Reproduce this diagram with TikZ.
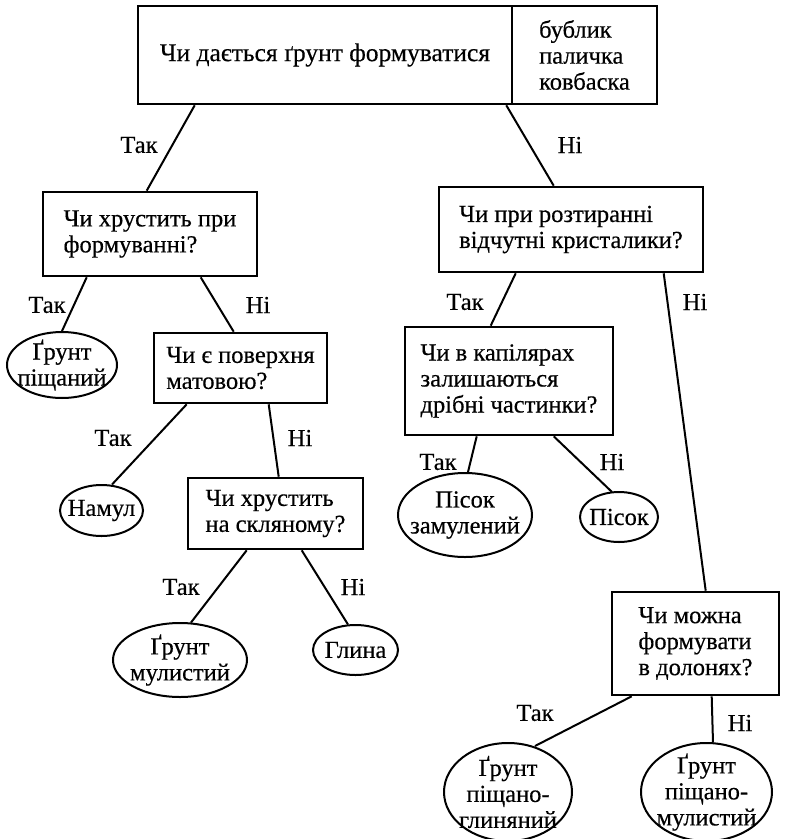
\documentclass[tikz,border=0pt]{standalone}
\usepackage{fontspec}
\setmainfont{Liberation Serif}[FakeBold=0.4]
\usetikzlibrary{shapes.geometric,calc}
\newcommand{\dfont}{\fontsize{24.5}{26}\selectfont}
\newcommand{\tfont}{\fontsize{25.5}{26}\selectfont}
\begin{document}
\begin{tikzpicture}[x=1pt,y=-1pt,
  qbox/.style={draw,rectangle,line width=2.6pt,inner sep=0pt,align=left,font=\dfont},
  leaf/.style={draw,ellipse,line width=2pt,inner sep=0pt},
  leaftext/.style={inner sep=0pt,align=center,font=\dfont},
  conn/.style={line width=2pt},
  lab/.style={inner sep=0pt,font=\dfont}]
\fill[white] (0,0) rectangle (793,839);
\useasboundingbox (0,0) rectangle (793,839);

% question boxes
\node[qbox,minimum width=374pt,minimum height=98pt,font=\tfont] (q0) at (325,55) {Чи дається ґрунт формуватися};
\node[qbox,minimum width=145pt,minimum height=98pt] (q0b) at (584.5,55) {бублик\\паличка\\ковбаска};
\node[qbox,minimum width=214pt,minimum height=84pt] (q1) at (150,234) {Чи хрустить при\\формуванні?};
\node[qbox,minimum width=264pt,minimum height=85pt] (q2) at (571,229.5) {Чи при розтиранні\\відчутні кристалики?};
\node[qbox,minimum width=173pt,minimum height=70pt] (q3) at (240.5,368) {Чи є поверхня\\матовою?};
\node[qbox,minimum width=175pt,minimum height=71pt] (q4) at (275.5,513.5) {Чи хрустить\\на скляному?};
\node[qbox,minimum width=208pt,minimum height=108pt] (q5) at (509,381) {Чи в капілярах\\залишаються\\дрібні частинки?};
\node[qbox,minimum width=167pt,minimum height=103pt] (q6) at (695.5,643.5) {Чи можна\\формувати\\в долонях?};

% leaves
\node[leaf,minimum width=110pt,minimum height=66pt,label={[leaftext,name=e1t]center:Ґрунт\\піщаний}] (e1) at (62,365) {};
\node[leaf,minimum width=83pt,minimum height=51pt,label={[leaftext,name=e2t]center:Намул}] (e2) at (101.5,510.5) {};
\node[leaf,minimum width=134pt,minimum height=74pt,label={[leaftext,name=e3t]center:Ґрунт\\мулистий}] (e3) at (180,660) {};
\node[leaf,minimum width=85pt,minimum height=50pt,label={[leaftext,name=e4t]center:Глина}] (e4) at (355.5,650) {};
\node[leaf,minimum width=134pt,minimum height=84pt,label={[leaftext,name=e5t]center:Пісок\\замулений}] (e5) at (465,515) {};
\node[leaf,minimum width=78pt,minimum height=50pt,label={[leaftext,name=e6t]center:Пісок}] (e6) at (619,517) {};
\node[leaf,minimum width=128pt,minimum height=98pt,label={[leaftext,name=e7t]center:Ґрунт\\піщано-\\глиняний}] (e7) at (508,792) {};
\node[leaf,minimum width=131pt,minimum height=98pt,label={[leaftext,name=e8t]center:Ґрунт\\піщано-\\мулистий}] (e8) at (706.5,792) {};

% connectors
\draw[conn] ($(q0.south west)+(58,0)$) -- ($(q1.north west)+(105,0)$);
\draw[conn] ($(q0.south east)+(-7,0)$) -- ($(q2.north west)+(116,0)$);
\draw[conn] ($(q1.south west)+(45,0)$) -- (e1.north);
\draw[conn] ($(q1.south west)+(159,0)$) -- ($(q3.north west)+(81,0)$);
\draw[conn] ($(q3.south west)+(34,0)$) -- ($(e2.north)+(10.5,0.5)$);
\draw[conn] ($(q3.south west)+(116,0)$) -- ($(q4.north west)+(92,0)$);
\draw[conn] ($(q4.south west)+(60,0)$) -- ($(e3.north)+(11,0.5)$);
\draw[conn] ($(q4.south west)+(115,0)$) -- ($(e4.north)+(-7.5,0.5)$);
\draw[conn] ($(q2.south west)+(78,0)$) -- ($(q5.north west)+(87,0)$);
\draw[conn] ($(q2.south west)+(226,0)$) -- ($(q6.north west)+(95,0)$);
\draw[conn] ($(q5.south west)+(73,0)$) -- ($(e5.north)+(3,0)$);
\draw[conn] ($(q5.south west)+(150,0)$) -- ($(e6.north)+(-7,1)$);
\draw[conn] ($(q6.south west)+(21,0)$) -- ($(e7.north)+(27,4)$);
\draw[conn] ($(q6.south west)+(101,0)$) -- ($(e8.north)+(6.5,0.5)$);

% edge labels
\node[lab] (l1) at (139,145) {Так};
\node[lab] (l2) at (570,145) {Ні};
\node[lab] (l3) at (47,305) {Так};
\node[lab] (l4) at (258,305) {Ні};
\node[lab] (l5) at (113,438) {Так};
\node[lab] (l6) at (300,438) {Ні};
\node[lab] (l7) at (181,587) {Так};
\node[lab] (l8) at (353,587) {Ні};
\node[lab] (l9) at (465,302) {Так};
\node[lab] (l10) at (695,302) {Ні};
\node[lab] (l11) at (438,462) {Так};
\node[lab] (l12) at (612,462) {Ні};
\node[lab] (l13) at (535,713) {Так};
\node[lab] (l14) at (740,723) {Ні};
\end{tikzpicture}
\end{document}
